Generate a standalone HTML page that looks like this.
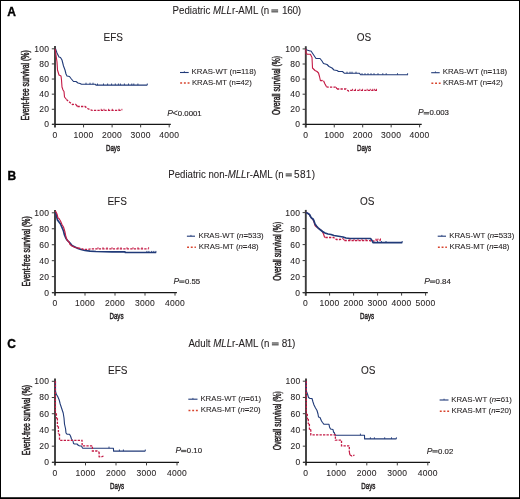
<!DOCTYPE html>
<html><head><meta charset="utf-8"><title>KRAS survival</title>
<style>
html,body{margin:0;padding:0;background:#fff;}
body{width:520px;height:499px;overflow:hidden;position:relative;}
.frame{position:absolute;left:0;top:0;width:518px;height:497px;border:1px solid #000;}
.bline{position:absolute;left:1px;top:497px;width:518px;height:1px;background:#3a3a3a;}
svg{position:absolute;left:0;top:0;will-change:transform;}
svg text{font-family:"Liberation Sans", sans-serif;stroke:#231f20;stroke-width:0.08px;}
</style></head><body>
<div class="frame"></div><div class="bline"></div>
<svg width="520" height="499" viewBox="0 0 520 499" font-family='"Liberation Sans", sans-serif'>
<text x="7.3" y="15.6" font-size="12" font-weight="bold" fill="#000" style="stroke:#000;stroke-width:0.35px">A</text>
<text x="7.4" y="180.1" font-size="12" font-weight="bold" fill="#000" style="stroke:#000;stroke-width:0.35px">B</text>
<text x="7.2" y="348.4" font-size="12" font-weight="bold" fill="#000" style="stroke:#000;stroke-width:0.35px">C</text>
<g transform="translate(172.6,13.9) scale(0.971,1)"><text x="0" y="0" font-size="10" fill="#231f20">Pediatric <tspan font-style="italic">MLL</tspan>r-AML (n</text></g>
<rect x="271.4" y="9.4" width="6.70" height="1.2" fill="#444"/>
<rect x="271.4" y="11.20" width="6.70" height="1.2" fill="#444"/>
<rect x="271.4" y="10.60" width="6.70" height="0.6" fill="#888"/>
<text x="300.9" y="13.9" font-size="10" fill="#231f20" text-anchor="end" letter-spacing="-0.3">160)</text>
<g transform="translate(168.3,178.1) scale(0.964,1)"><text x="0" y="0" font-size="10" fill="#231f20">Pediatric non-<tspan font-style="italic">MLL</tspan>r-AML (n</text></g>
<rect x="285.7" y="173.4" width="6.10" height="1.2" fill="#444"/>
<rect x="285.7" y="175.20" width="6.10" height="1.2" fill="#444"/>
<rect x="285.7" y="174.60" width="6.10" height="0.6" fill="#888"/>
<text x="315.3" y="178.1" font-size="10" fill="#231f20" text-anchor="end" letter-spacing="0.3">581)</text>
<g transform="translate(188.4,346.8) scale(0.971,1)"><text x="0" y="0" font-size="10" fill="#231f20">Adult <tspan font-style="italic">MLL</tspan>r-AML (n</text></g>
<rect x="271.9" y="342.4" width="6.70" height="1.2" fill="#444"/>
<rect x="271.9" y="344.20" width="6.70" height="1.2" fill="#444"/>
<rect x="271.9" y="343.60" width="6.70" height="0.6" fill="#888"/>
<text x="294.9" y="346.8" font-size="10" fill="#231f20" text-anchor="end" letter-spacing="-0.4">81)</text>
<text x="103.5" y="40.9" font-size="10" text-anchor="start" font-weight="normal" font-style="normal" fill="#231f20" >EFS</text>
<text x="356.8" y="41.1" font-size="10" text-anchor="start" font-weight="normal" font-style="normal" fill="#231f20" >OS</text>
<text x="107.4" y="204.6" font-size="10" text-anchor="start" font-weight="normal" font-style="normal" fill="#231f20" >EFS</text>
<text x="359.9" y="204.9" font-size="10" text-anchor="start" font-weight="normal" font-style="normal" fill="#231f20" >OS</text>
<text x="108.0" y="373.6" font-size="10" text-anchor="start" font-weight="normal" font-style="normal" fill="#231f20" >EFS</text>
<text x="360.9" y="374.0" font-size="10" text-anchor="start" font-weight="normal" font-style="normal" fill="#231f20" >OS</text>
<line x1="55" y1="46.099999999999994" x2="55" y2="127.60000000000001" stroke="#3c3c3c" stroke-width="1.9"/>
<line x1="52" y1="124.4" x2="170.8" y2="124.4" stroke="#151515" stroke-width="1.2"/>
<line x1="51.8" y1="124.40" x2="55" y2="124.40" stroke="#3c3c3c" stroke-width="1"/>
<text x="49.40" y="127.30" font-size="8.5" text-anchor="end" font-weight="normal" font-style="normal" fill="#231f20" letter-spacing="0.3">0</text>
<line x1="51.8" y1="109.28" x2="55" y2="109.28" stroke="#3c3c3c" stroke-width="1"/>
<text x="49.40" y="112.18" font-size="8.5" text-anchor="end" font-weight="normal" font-style="normal" fill="#231f20" letter-spacing="0.3">20</text>
<line x1="51.8" y1="94.16" x2="55" y2="94.16" stroke="#3c3c3c" stroke-width="1"/>
<text x="49.40" y="97.06" font-size="8.5" text-anchor="end" font-weight="normal" font-style="normal" fill="#231f20" letter-spacing="0.3">40</text>
<line x1="51.8" y1="79.04" x2="55" y2="79.04" stroke="#3c3c3c" stroke-width="1"/>
<text x="49.40" y="81.94" font-size="8.5" text-anchor="end" font-weight="normal" font-style="normal" fill="#231f20" letter-spacing="0.3">60</text>
<line x1="51.8" y1="63.92" x2="55" y2="63.92" stroke="#3c3c3c" stroke-width="1"/>
<text x="49.40" y="66.82" font-size="8.5" text-anchor="end" font-weight="normal" font-style="normal" fill="#231f20" letter-spacing="0.3">80</text>
<line x1="51.8" y1="48.80" x2="55" y2="48.80" stroke="#3c3c3c" stroke-width="1"/>
<text x="49.40" y="51.70" font-size="8.5" text-anchor="end" font-weight="normal" font-style="normal" fill="#231f20" letter-spacing="0.3">100</text>
<text x="55.00" y="137.90" font-size="8.5" text-anchor="middle" font-weight="normal" font-style="normal" fill="#231f20" letter-spacing="0.3">0</text>
<line x1="83.55" y1="124.4" x2="83.55" y2="127.4" stroke="#3c3c3c" stroke-width="1"/>
<text x="83.55" y="137.90" font-size="8.5" text-anchor="middle" font-weight="normal" font-style="normal" fill="#231f20" letter-spacing="0.3">1000</text>
<line x1="112.10" y1="124.4" x2="112.10" y2="127.4" stroke="#3c3c3c" stroke-width="1"/>
<text x="112.10" y="137.90" font-size="8.5" text-anchor="middle" font-weight="normal" font-style="normal" fill="#231f20" letter-spacing="0.3">2000</text>
<line x1="140.65" y1="124.4" x2="140.65" y2="127.4" stroke="#3c3c3c" stroke-width="1"/>
<text x="140.65" y="137.90" font-size="8.5" text-anchor="middle" font-weight="normal" font-style="normal" fill="#231f20" letter-spacing="0.3">3000</text>
<line x1="169.20" y1="124.4" x2="169.20" y2="127.4" stroke="#3c3c3c" stroke-width="1"/>
<text x="169.20" y="137.90" font-size="8.5" text-anchor="middle" font-weight="normal" font-style="normal" fill="#231f20" letter-spacing="0.3">4000</text>
<line x1="305.8" y1="46.199999999999996" x2="305.8" y2="127.60000000000001" stroke="#3c3c3c" stroke-width="1.9"/>
<line x1="302.8" y1="124.4" x2="421.7" y2="124.4" stroke="#151515" stroke-width="1.2"/>
<line x1="302.6" y1="124.40" x2="305.8" y2="124.40" stroke="#3c3c3c" stroke-width="1"/>
<text x="300.40" y="127.30" font-size="8.5" text-anchor="end" font-weight="normal" font-style="normal" fill="#231f20" letter-spacing="0.3">0</text>
<line x1="302.6" y1="109.30" x2="305.8" y2="109.30" stroke="#3c3c3c" stroke-width="1"/>
<text x="300.40" y="112.20" font-size="8.5" text-anchor="end" font-weight="normal" font-style="normal" fill="#231f20" letter-spacing="0.3">20</text>
<line x1="302.6" y1="94.20" x2="305.8" y2="94.20" stroke="#3c3c3c" stroke-width="1"/>
<text x="300.40" y="97.10" font-size="8.5" text-anchor="end" font-weight="normal" font-style="normal" fill="#231f20" letter-spacing="0.3">40</text>
<line x1="302.6" y1="79.10" x2="305.8" y2="79.10" stroke="#3c3c3c" stroke-width="1"/>
<text x="300.40" y="82.00" font-size="8.5" text-anchor="end" font-weight="normal" font-style="normal" fill="#231f20" letter-spacing="0.3">60</text>
<line x1="302.6" y1="64.00" x2="305.8" y2="64.00" stroke="#3c3c3c" stroke-width="1"/>
<text x="300.40" y="66.90" font-size="8.5" text-anchor="end" font-weight="normal" font-style="normal" fill="#231f20" letter-spacing="0.3">80</text>
<line x1="302.6" y1="48.90" x2="305.8" y2="48.90" stroke="#3c3c3c" stroke-width="1"/>
<text x="300.40" y="51.80" font-size="8.5" text-anchor="end" font-weight="normal" font-style="normal" fill="#231f20" letter-spacing="0.3">100</text>
<text x="305.80" y="137.90" font-size="8.5" text-anchor="middle" font-weight="normal" font-style="normal" fill="#231f20" letter-spacing="0.3">0</text>
<line x1="334.25" y1="124.4" x2="334.25" y2="127.4" stroke="#3c3c3c" stroke-width="1"/>
<text x="334.25" y="137.90" font-size="8.5" text-anchor="middle" font-weight="normal" font-style="normal" fill="#231f20" letter-spacing="0.3">1000</text>
<line x1="362.70" y1="124.4" x2="362.70" y2="127.4" stroke="#3c3c3c" stroke-width="1"/>
<text x="362.70" y="137.90" font-size="8.5" text-anchor="middle" font-weight="normal" font-style="normal" fill="#231f20" letter-spacing="0.3">2000</text>
<line x1="391.15" y1="124.4" x2="391.15" y2="127.4" stroke="#3c3c3c" stroke-width="1"/>
<text x="391.15" y="137.90" font-size="8.5" text-anchor="middle" font-weight="normal" font-style="normal" fill="#231f20" letter-spacing="0.3">3000</text>
<line x1="419.60" y1="124.4" x2="419.60" y2="127.4" stroke="#3c3c3c" stroke-width="1"/>
<text x="419.60" y="137.90" font-size="8.5" text-anchor="middle" font-weight="normal" font-style="normal" fill="#231f20" letter-spacing="0.3">4000</text>
<line x1="55" y1="210.10000000000002" x2="55" y2="295.8" stroke="#3c3c3c" stroke-width="1.9"/>
<line x1="52" y1="292.6" x2="176.9" y2="292.6" stroke="#151515" stroke-width="1.2"/>
<line x1="51.8" y1="292.60" x2="55" y2="292.60" stroke="#3c3c3c" stroke-width="1"/>
<text x="49.40" y="295.50" font-size="8.5" text-anchor="end" font-weight="normal" font-style="normal" fill="#231f20" letter-spacing="0.3">0</text>
<line x1="51.8" y1="276.64" x2="55" y2="276.64" stroke="#3c3c3c" stroke-width="1"/>
<text x="49.40" y="279.54" font-size="8.5" text-anchor="end" font-weight="normal" font-style="normal" fill="#231f20" letter-spacing="0.3">20</text>
<line x1="51.8" y1="260.68" x2="55" y2="260.68" stroke="#3c3c3c" stroke-width="1"/>
<text x="49.40" y="263.58" font-size="8.5" text-anchor="end" font-weight="normal" font-style="normal" fill="#231f20" letter-spacing="0.3">40</text>
<line x1="51.8" y1="244.72" x2="55" y2="244.72" stroke="#3c3c3c" stroke-width="1"/>
<text x="49.40" y="247.62" font-size="8.5" text-anchor="end" font-weight="normal" font-style="normal" fill="#231f20" letter-spacing="0.3">60</text>
<line x1="51.8" y1="228.76" x2="55" y2="228.76" stroke="#3c3c3c" stroke-width="1"/>
<text x="49.40" y="231.66" font-size="8.5" text-anchor="end" font-weight="normal" font-style="normal" fill="#231f20" letter-spacing="0.3">80</text>
<line x1="51.8" y1="212.80" x2="55" y2="212.80" stroke="#3c3c3c" stroke-width="1"/>
<text x="49.40" y="215.70" font-size="8.5" text-anchor="end" font-weight="normal" font-style="normal" fill="#231f20" letter-spacing="0.3">100</text>
<text x="55.00" y="306.20" font-size="8.5" text-anchor="middle" font-weight="normal" font-style="normal" fill="#231f20" letter-spacing="0.3">0</text>
<line x1="85.00" y1="292.6" x2="85.00" y2="295.6" stroke="#3c3c3c" stroke-width="1"/>
<text x="85.00" y="306.20" font-size="8.5" text-anchor="middle" font-weight="normal" font-style="normal" fill="#231f20" letter-spacing="0.3">1000</text>
<line x1="115.00" y1="292.6" x2="115.00" y2="295.6" stroke="#3c3c3c" stroke-width="1"/>
<text x="115.00" y="306.20" font-size="8.5" text-anchor="middle" font-weight="normal" font-style="normal" fill="#231f20" letter-spacing="0.3">2000</text>
<line x1="145.00" y1="292.6" x2="145.00" y2="295.6" stroke="#3c3c3c" stroke-width="1"/>
<text x="145.00" y="306.20" font-size="8.5" text-anchor="middle" font-weight="normal" font-style="normal" fill="#231f20" letter-spacing="0.3">3000</text>
<line x1="175.00" y1="292.6" x2="175.00" y2="295.6" stroke="#3c3c3c" stroke-width="1"/>
<text x="175.00" y="306.20" font-size="8.5" text-anchor="middle" font-weight="normal" font-style="normal" fill="#231f20" letter-spacing="0.3">4000</text>
<line x1="305.8" y1="209.9" x2="305.8" y2="295.8" stroke="#3c3c3c" stroke-width="1.9"/>
<line x1="302.8" y1="292.6" x2="427.8" y2="292.6" stroke="#151515" stroke-width="1.2"/>
<line x1="302.6" y1="292.60" x2="305.8" y2="292.60" stroke="#3c3c3c" stroke-width="1"/>
<text x="300.40" y="295.50" font-size="8.5" text-anchor="end" font-weight="normal" font-style="normal" fill="#231f20" letter-spacing="0.3">0</text>
<line x1="302.6" y1="276.60" x2="305.8" y2="276.60" stroke="#3c3c3c" stroke-width="1"/>
<text x="300.40" y="279.50" font-size="8.5" text-anchor="end" font-weight="normal" font-style="normal" fill="#231f20" letter-spacing="0.3">20</text>
<line x1="302.6" y1="260.60" x2="305.8" y2="260.60" stroke="#3c3c3c" stroke-width="1"/>
<text x="300.40" y="263.50" font-size="8.5" text-anchor="end" font-weight="normal" font-style="normal" fill="#231f20" letter-spacing="0.3">40</text>
<line x1="302.6" y1="244.60" x2="305.8" y2="244.60" stroke="#3c3c3c" stroke-width="1"/>
<text x="300.40" y="247.50" font-size="8.5" text-anchor="end" font-weight="normal" font-style="normal" fill="#231f20" letter-spacing="0.3">60</text>
<line x1="302.6" y1="228.60" x2="305.8" y2="228.60" stroke="#3c3c3c" stroke-width="1"/>
<text x="300.40" y="231.50" font-size="8.5" text-anchor="end" font-weight="normal" font-style="normal" fill="#231f20" letter-spacing="0.3">80</text>
<line x1="302.6" y1="212.60" x2="305.8" y2="212.60" stroke="#3c3c3c" stroke-width="1"/>
<text x="300.40" y="215.50" font-size="8.5" text-anchor="end" font-weight="normal" font-style="normal" fill="#231f20" letter-spacing="0.3">100</text>
<text x="305.60" y="306.20" font-size="8.5" text-anchor="middle" font-weight="normal" font-style="normal" fill="#231f20" letter-spacing="0.3">0</text>
<line x1="329.60" y1="292.6" x2="329.60" y2="295.6" stroke="#3c3c3c" stroke-width="1"/>
<text x="329.60" y="306.20" font-size="8.5" text-anchor="middle" font-weight="normal" font-style="normal" fill="#231f20" letter-spacing="0.3">1000</text>
<line x1="353.60" y1="292.6" x2="353.60" y2="295.6" stroke="#3c3c3c" stroke-width="1"/>
<text x="353.60" y="306.20" font-size="8.5" text-anchor="middle" font-weight="normal" font-style="normal" fill="#231f20" letter-spacing="0.3">2000</text>
<line x1="377.60" y1="292.6" x2="377.60" y2="295.6" stroke="#3c3c3c" stroke-width="1"/>
<text x="377.60" y="306.20" font-size="8.5" text-anchor="middle" font-weight="normal" font-style="normal" fill="#231f20" letter-spacing="0.3">3000</text>
<line x1="401.60" y1="292.6" x2="401.60" y2="295.6" stroke="#3c3c3c" stroke-width="1"/>
<text x="401.60" y="306.20" font-size="8.5" text-anchor="middle" font-weight="normal" font-style="normal" fill="#231f20" letter-spacing="0.3">4000</text>
<line x1="425.60" y1="292.6" x2="425.60" y2="295.6" stroke="#3c3c3c" stroke-width="1"/>
<text x="425.60" y="306.20" font-size="8.5" text-anchor="middle" font-weight="normal" font-style="normal" fill="#231f20" letter-spacing="0.3">5000</text>
<line x1="55" y1="378.6" x2="55" y2="465.59999999999997" stroke="#3c3c3c" stroke-width="1.9"/>
<line x1="52" y1="462.4" x2="179.0" y2="462.4" stroke="#151515" stroke-width="1.2"/>
<line x1="51.8" y1="462.40" x2="55" y2="462.40" stroke="#3c3c3c" stroke-width="1"/>
<text x="49.40" y="465.30" font-size="8.5" text-anchor="end" font-weight="normal" font-style="normal" fill="#231f20" letter-spacing="0.3">0</text>
<line x1="51.8" y1="446.18" x2="55" y2="446.18" stroke="#3c3c3c" stroke-width="1"/>
<text x="49.40" y="449.08" font-size="8.5" text-anchor="end" font-weight="normal" font-style="normal" fill="#231f20" letter-spacing="0.3">20</text>
<line x1="51.8" y1="429.96" x2="55" y2="429.96" stroke="#3c3c3c" stroke-width="1"/>
<text x="49.40" y="432.86" font-size="8.5" text-anchor="end" font-weight="normal" font-style="normal" fill="#231f20" letter-spacing="0.3">40</text>
<line x1="51.8" y1="413.74" x2="55" y2="413.74" stroke="#3c3c3c" stroke-width="1"/>
<text x="49.40" y="416.64" font-size="8.5" text-anchor="end" font-weight="normal" font-style="normal" fill="#231f20" letter-spacing="0.3">60</text>
<line x1="51.8" y1="397.52" x2="55" y2="397.52" stroke="#3c3c3c" stroke-width="1"/>
<text x="49.40" y="400.42" font-size="8.5" text-anchor="end" font-weight="normal" font-style="normal" fill="#231f20" letter-spacing="0.3">80</text>
<line x1="51.8" y1="381.30" x2="55" y2="381.30" stroke="#3c3c3c" stroke-width="1"/>
<text x="49.40" y="384.20" font-size="8.5" text-anchor="end" font-weight="normal" font-style="normal" fill="#231f20" letter-spacing="0.3">100</text>
<text x="55.00" y="476.00" font-size="8.5" text-anchor="middle" font-weight="normal" font-style="normal" fill="#231f20" letter-spacing="0.3">0</text>
<line x1="85.50" y1="462.4" x2="85.50" y2="465.4" stroke="#3c3c3c" stroke-width="1"/>
<text x="85.50" y="476.00" font-size="8.5" text-anchor="middle" font-weight="normal" font-style="normal" fill="#231f20" letter-spacing="0.3">1000</text>
<line x1="116.00" y1="462.4" x2="116.00" y2="465.4" stroke="#3c3c3c" stroke-width="1"/>
<text x="116.00" y="476.00" font-size="8.5" text-anchor="middle" font-weight="normal" font-style="normal" fill="#231f20" letter-spacing="0.3">2000</text>
<line x1="146.50" y1="462.4" x2="146.50" y2="465.4" stroke="#3c3c3c" stroke-width="1"/>
<text x="146.50" y="476.00" font-size="8.5" text-anchor="middle" font-weight="normal" font-style="normal" fill="#231f20" letter-spacing="0.3">3000</text>
<line x1="177.00" y1="462.4" x2="177.00" y2="465.4" stroke="#3c3c3c" stroke-width="1"/>
<text x="177.00" y="476.00" font-size="8.5" text-anchor="middle" font-weight="normal" font-style="normal" fill="#231f20" letter-spacing="0.3">4000</text>
<line x1="306" y1="378.5" x2="306" y2="465.59999999999997" stroke="#3c3c3c" stroke-width="1.9"/>
<line x1="303" y1="462.4" x2="430.0" y2="462.4" stroke="#151515" stroke-width="1.2"/>
<line x1="302.8" y1="462.40" x2="306" y2="462.40" stroke="#3c3c3c" stroke-width="1"/>
<text x="300.60" y="465.30" font-size="8.5" text-anchor="end" font-weight="normal" font-style="normal" fill="#231f20" letter-spacing="0.3">0</text>
<line x1="302.8" y1="446.16" x2="306" y2="446.16" stroke="#3c3c3c" stroke-width="1"/>
<text x="300.60" y="449.06" font-size="8.5" text-anchor="end" font-weight="normal" font-style="normal" fill="#231f20" letter-spacing="0.3">20</text>
<line x1="302.8" y1="429.92" x2="306" y2="429.92" stroke="#3c3c3c" stroke-width="1"/>
<text x="300.60" y="432.82" font-size="8.5" text-anchor="end" font-weight="normal" font-style="normal" fill="#231f20" letter-spacing="0.3">40</text>
<line x1="302.8" y1="413.68" x2="306" y2="413.68" stroke="#3c3c3c" stroke-width="1"/>
<text x="300.60" y="416.58" font-size="8.5" text-anchor="end" font-weight="normal" font-style="normal" fill="#231f20" letter-spacing="0.3">60</text>
<line x1="302.8" y1="397.44" x2="306" y2="397.44" stroke="#3c3c3c" stroke-width="1"/>
<text x="300.60" y="400.34" font-size="8.5" text-anchor="end" font-weight="normal" font-style="normal" fill="#231f20" letter-spacing="0.3">80</text>
<line x1="302.8" y1="381.20" x2="306" y2="381.20" stroke="#3c3c3c" stroke-width="1"/>
<text x="300.60" y="384.10" font-size="8.5" text-anchor="end" font-weight="normal" font-style="normal" fill="#231f20" letter-spacing="0.3">100</text>
<text x="305.80" y="476.00" font-size="8.5" text-anchor="middle" font-weight="normal" font-style="normal" fill="#231f20" letter-spacing="0.3">0</text>
<line x1="336.30" y1="462.4" x2="336.30" y2="465.4" stroke="#3c3c3c" stroke-width="1"/>
<text x="336.30" y="476.00" font-size="8.5" text-anchor="middle" font-weight="normal" font-style="normal" fill="#231f20" letter-spacing="0.3">1000</text>
<line x1="366.80" y1="462.4" x2="366.80" y2="465.4" stroke="#3c3c3c" stroke-width="1"/>
<text x="366.80" y="476.00" font-size="8.5" text-anchor="middle" font-weight="normal" font-style="normal" fill="#231f20" letter-spacing="0.3">2000</text>
<line x1="397.30" y1="462.4" x2="397.30" y2="465.4" stroke="#3c3c3c" stroke-width="1"/>
<text x="397.30" y="476.00" font-size="8.5" text-anchor="middle" font-weight="normal" font-style="normal" fill="#231f20" letter-spacing="0.3">3000</text>
<line x1="427.80" y1="462.4" x2="427.80" y2="465.4" stroke="#3c3c3c" stroke-width="1"/>
<text x="427.80" y="476.00" font-size="8.5" text-anchor="middle" font-weight="normal" font-style="normal" fill="#231f20" letter-spacing="0.3">4000</text>
<g transform="translate(29.2,85.3) rotate(-90) scale(0.695,1)"><text x="0" y="0" font-size="10" text-anchor="middle" fill="#231f20" style="stroke-width:0.5px">Event-free survival (%)</text></g>
<g transform="translate(280.0,85.5) rotate(-90) scale(0.68,1)"><text x="0" y="0" font-size="10" text-anchor="middle" fill="#231f20" style="stroke-width:0.5px">Overall survival (%)</text></g>
<g transform="translate(29.6,251.3) rotate(-90) scale(0.695,1)"><text x="0" y="0" font-size="10" text-anchor="middle" fill="#231f20" style="stroke-width:0.5px">Event-free survival (%)</text></g>
<g transform="translate(280.7,251.3) rotate(-90) scale(0.68,1)"><text x="0" y="0" font-size="10" text-anchor="middle" fill="#231f20" style="stroke-width:0.5px">Overall survival (%)</text></g>
<g transform="translate(29.5,420.0) rotate(-90) scale(0.695,1)"><text x="0" y="0" font-size="10" text-anchor="middle" fill="#231f20" style="stroke-width:0.5px">Event-free survival (%)</text></g>
<g transform="translate(280.7,420.7) rotate(-90) scale(0.68,1)"><text x="0" y="0" font-size="10" text-anchor="middle" fill="#231f20" style="stroke-width:0.5px">Overall survival (%)</text></g>
<g transform="translate(113.0,150.8) scale(0.62,0.95)"><text x="0" y="0" font-size="10" text-anchor="middle" fill="#231f20" style="stroke-width:0.5px">Days</text></g>
<g transform="translate(364.0,150.8) scale(0.62,0.95)"><text x="0" y="0" font-size="10" text-anchor="middle" fill="#231f20" style="stroke-width:0.5px">Days</text></g>
<g transform="translate(116.5,319.4) scale(0.62,0.95)"><text x="0" y="0" font-size="10" text-anchor="middle" fill="#231f20" style="stroke-width:0.5px">Days</text></g>
<g transform="translate(367.1,319.4) scale(0.62,0.95)"><text x="0" y="0" font-size="10" text-anchor="middle" fill="#231f20" style="stroke-width:0.5px">Days</text></g>
<g transform="translate(117.1,488.9) scale(0.62,0.95)"><text x="0" y="0" font-size="10" text-anchor="middle" fill="#231f20" style="stroke-width:0.5px">Days</text></g>
<g transform="translate(368.3,488.9) scale(0.62,0.95)"><text x="0" y="0" font-size="10" text-anchor="middle" fill="#231f20" style="stroke-width:0.5px">Days</text></g>
<polyline points="55.50,48.80 57.00,53.00 59.00,57.00 60.50,57.50 62.00,60.00 63.50,66.00 65.00,70.00 66.00,74.00 67.00,76.00 69.50,76.50 71.00,78.50 73.50,81.50 76.00,81.50 78.00,83.00 80.00,83.50 81.50,84.30 95.50,84.30 96.00,85.10 147.30,85.10" fill="none" stroke="#203a78" stroke-width="1.1" stroke-linejoin="round"/>
<polyline points="55.20,48.80 56.00,55.00 57.00,62.00 57.50,70.00 59.00,75.00 61.00,76.00 61.50,80.00 62.00,87.00 63.00,90.00 64.00,91.50 64.50,97.00 66.50,99.50" fill="none" stroke="#c41a45" stroke-width="1.1" stroke-linejoin="round"/>
<polyline points="66.50,99.50 68.50,101.50 70.00,102.50 72.50,104.50 75.50,104.20" fill="none" stroke="#c41a45" stroke-width="1.3" stroke-dasharray="2.3 1.2"/>
<polyline points="75.50,104.20 77.50,106.50" fill="none" stroke="#c41a45" stroke-width="1.15" stroke-linejoin="round"/>
<polyline points="77.50,106.50 85.00,106.50 87.50,108.50 90.00,109.50 92.00,110.40 121.90,110.40" fill="none" stroke="#c41a45" stroke-width="1.3" stroke-dasharray="2.3 1.2"/>
<polyline points="306.00,48.90 307.00,50.00 310.00,51.00 311.00,51.00 313.00,54.00 316.00,58.50 320.00,58.50 322.00,61.00 323.50,63.50 327.00,64.50 329.00,66.50 330.00,67.00 332.00,68.00 334.00,70.00 337.00,70.50 338.50,71.50 342.50,71.50 344.50,73.30 359.50,73.30 360.50,74.80 408.00,74.80" fill="none" stroke="#203a78" stroke-width="1.1" stroke-linejoin="round"/>
<polyline points="305.90,48.90 306.10,53.80 307.50,54.10 310.40,54.30 312.00,57.50 312.50,68.00 315.00,70.50 317.00,71.50 318.50,73.00 319.50,76.50 320.50,81.00" fill="none" stroke="#c41a45" stroke-width="1.1" stroke-linejoin="round"/>
<polyline points="320.50,81.00 322.00,80.50 323.50,80.80" fill="none" stroke="#c41a45" stroke-width="1.3" stroke-dasharray="2.3 1.2"/>
<polyline points="323.50,80.80 325.00,84.00 326.50,86.80" fill="none" stroke="#c41a45" stroke-width="1.15" stroke-linejoin="round"/>
<polyline points="326.50,86.80 328.00,87.20 336.00,87.20" fill="none" stroke="#c41a45" stroke-width="1.3" stroke-dasharray="2.3 1.2"/>
<polyline points="336.00,87.20 337.00,89.00" fill="none" stroke="#c41a45" stroke-width="1.15" stroke-linejoin="round"/>
<polyline points="337.00,89.00 346.00,89.00 348.50,91.00 350.00,90.40 377.10,90.40" fill="none" stroke="#c41a45" stroke-width="1.3" stroke-dasharray="2.3 1.2"/>
<polyline points="55.50,381.30 55.50,391.00 56.20,394.00 57.70,396.50 59.20,400.00 60.20,404.00 61.20,407.00 62.20,410.00 63.20,413.00 64.00,418.00 64.50,424.00 65.60,429.00 66.00,433.00 67.00,434.20 69.50,434.20 70.50,436.00 71.50,439.00 73.00,441.00 73.50,443.50 74.50,444.00 77.00,444.00 78.50,445.50 80.00,446.00 81.50,446.00 82.50,448.00 83.00,448.20 113.40,448.20 113.60,451.10 145.30,451.10" fill="none" stroke="#203a78" stroke-width="1.1" stroke-linejoin="round"/>
<polyline points="55.40,381.30 55.40,413.50" fill="none" stroke="#c41a45" stroke-width="1.3" stroke-dasharray="2.3 1.2"/>
<polyline points="55.40,413.50 56.40,413.50" fill="none" stroke="#c41a45" stroke-width="1.15" stroke-linejoin="round"/>
<polyline points="56.40,413.50 56.40,418.30" fill="none" stroke="#c41a45" stroke-width="1.3" stroke-dasharray="2.3 1.2"/>
<polyline points="56.40,418.30 57.40,418.30" fill="none" stroke="#c41a45" stroke-width="1.15" stroke-linejoin="round"/>
<polyline points="57.40,418.30 57.40,426.50" fill="none" stroke="#c41a45" stroke-width="1.3" stroke-dasharray="2.3 1.2"/>
<polyline points="57.40,426.50 58.40,426.50" fill="none" stroke="#c41a45" stroke-width="1.15" stroke-linejoin="round"/>
<polyline points="58.40,426.50 58.40,434.00" fill="none" stroke="#c41a45" stroke-width="1.3" stroke-dasharray="2.3 1.2"/>
<polyline points="58.40,434.00 59.50,434.00" fill="none" stroke="#c41a45" stroke-width="1.15" stroke-linejoin="round"/>
<polyline points="59.50,434.00 59.50,440.30 82.00,440.30 82.20,445.80 92.40,445.80 92.40,451.00 97.00,451.00 98.50,451.50" fill="none" stroke="#c41a45" stroke-width="1.3" stroke-dasharray="2.3 1.2"/>
<polyline points="98.50,451.50 99.10,452.00" fill="none" stroke="#c41a45" stroke-width="1.15" stroke-linejoin="round"/>
<polyline points="99.10,452.00 99.10,456.60 101.00,457.00 103.50,456.00" fill="none" stroke="#c41a45" stroke-width="1.3" stroke-dasharray="2.3 1.2"/>
<polyline points="306.20,381.20 306.30,391.00 307.50,394.00 308.50,397.50 310.00,398.50 312.00,398.50 313.00,402.00 314.00,405.00 315.50,408.00 317.00,410.50 318.00,414.00 318.50,417.00 320.00,417.50 321.50,421.00 322.50,422.50 324.00,424.30 329.00,424.30 329.50,427.00 330.50,429.00 333.00,429.50 333.50,432.00 334.50,433.00 335.00,435.20 364.50,435.20 364.60,438.90 396.40,438.90" fill="none" stroke="#203a78" stroke-width="1.1" stroke-linejoin="round"/>
<polyline points="306.30,381.20 306.30,414.00" fill="none" stroke="#c41a45" stroke-width="1.3" stroke-dasharray="2.3 1.2"/>
<polyline points="306.30,414.00 307.30,414.00" fill="none" stroke="#c41a45" stroke-width="1.15" stroke-linejoin="round"/>
<polyline points="307.30,414.00 307.30,419.00" fill="none" stroke="#c41a45" stroke-width="1.3" stroke-dasharray="2.3 1.2"/>
<polyline points="307.30,419.00 308.30,419.00" fill="none" stroke="#c41a45" stroke-width="1.15" stroke-linejoin="round"/>
<polyline points="308.30,419.00 308.30,424.00" fill="none" stroke="#c41a45" stroke-width="1.3" stroke-dasharray="2.3 1.2"/>
<polyline points="308.30,424.00 309.40,424.00" fill="none" stroke="#c41a45" stroke-width="1.15" stroke-linejoin="round"/>
<polyline points="309.40,424.00 309.40,429.50" fill="none" stroke="#c41a45" stroke-width="1.3" stroke-dasharray="2.3 1.2"/>
<polyline points="309.40,429.50 310.80,429.50" fill="none" stroke="#c41a45" stroke-width="1.15" stroke-linejoin="round"/>
<polyline points="310.80,429.50 310.80,434.80 335.40,434.80 335.40,440.20 341.50,440.20 341.50,445.80 349.30,445.80 349.30,452.00" fill="none" stroke="#c41a45" stroke-width="1.3" stroke-dasharray="2.3 1.2"/>
<polyline points="349.30,452.00 350.00,455.00" fill="none" stroke="#c41a45" stroke-width="1.15" stroke-linejoin="round"/>
<polyline points="350.00,455.00 352.00,456.00 354.50,455.00" fill="none" stroke="#c41a45" stroke-width="1.3" stroke-dasharray="2.3 1.2"/>
<polyline points="55.50,212.50 56.50,216.00 57.50,220.00 59.00,222.00 60.50,224.00 62.00,227.50 63.50,231.00 64.50,235.00 66.00,238.50 67.50,240.50 70.00,243.00 72.00,245.50 75.00,247.00 78.00,248.50 81.00,249.50 85.00,250.50 90.00,251.20 96.00,251.50 112.00,251.80 125.00,251.80 125.30,252.50 156.20,252.50" fill="none" stroke="#203a78" stroke-width="1.7" stroke-linejoin="round"/>
<polyline points="55.50,211.00 57.00,214.00 58.00,218.00 59.00,218.50 60.50,221.00 62.00,224.50 63.50,227.00 65.00,232.00 66.00,237.00 67.00,240.00 69.00,242.00 70.00,244.50 72.00,246.00 75.00,247.50 78.00,248.00" fill="none" stroke="#c41a45" stroke-width="1.1" stroke-linejoin="round"/>
<polyline points="78.00,248.00 81.00,248.50 84.00,249.40 88.00,249.40 91.00,248.80 148.60,248.80" fill="none" stroke="#c41a45" stroke-width="1.3" stroke-dasharray="2.3 1.2"/>
<polyline points="306.00,212.20 308.00,213.50 309.50,214.80 310.50,216.80 311.50,218.30 313.00,219.50 314.00,222.00 315.00,225.50 316.50,227.00 318.00,228.00 320.00,229.50 322.00,231.00" fill="none" stroke="#c41a45" stroke-width="1.1" stroke-linejoin="round"/>
<polyline points="322.00,231.00 323.50,234.00 324.50,237.00 325.50,237.50" fill="none" stroke="#c41a45" stroke-width="1.15" stroke-linejoin="round"/>
<polyline points="325.50,237.50 333.50,237.50 335.00,238.50 336.50,239.50 340.00,239.50 343.00,238.50" fill="none" stroke="#c41a45" stroke-width="1.3" stroke-dasharray="2.3 1.2"/>
<polyline points="343.00,238.50 344.50,240.50" fill="none" stroke="#c41a45" stroke-width="1.15" stroke-linejoin="round"/>
<polyline points="344.50,240.50 370.00,240.60 371.50,241.30 374.00,241.00 376.00,240.20 381.00,240.00" fill="none" stroke="#c41a45" stroke-width="1.3" stroke-dasharray="2.3 1.2"/>
<polyline points="306.00,212.50 308.00,213.50 309.50,214.50 310.50,216.50 311.50,218.00 313.00,219.00 314.00,221.00 315.00,224.00 316.50,226.00 318.00,227.80 320.00,229.50 322.50,231.50 325.00,233.00 328.00,234.00 331.00,234.50 334.00,235.50 337.00,236.00 340.00,236.50 343.00,237.00 346.00,238.00 350.00,238.50 370.50,238.50 372.00,240.50 373.00,242.60 402.30,242.60" fill="none" stroke="#203a78" stroke-width="1.7" stroke-linejoin="round"/>
<line x1="97.5" y1="85.1" x2="97.5" y2="83.5" stroke="#203a78" stroke-width="0.9"/>
<line x1="103.5" y1="85.1" x2="103.5" y2="83.5" stroke="#203a78" stroke-width="0.9"/>
<line x1="107.6" y1="85.1" x2="107.6" y2="83.5" stroke="#203a78" stroke-width="0.9"/>
<line x1="111.6" y1="85.1" x2="111.6" y2="83.5" stroke="#203a78" stroke-width="0.9"/>
<line x1="115.3" y1="85.1" x2="115.3" y2="83.5" stroke="#203a78" stroke-width="0.9"/>
<line x1="118.4" y1="85.1" x2="118.4" y2="83.5" stroke="#203a78" stroke-width="0.9"/>
<line x1="120.4" y1="85.1" x2="120.4" y2="83.5" stroke="#203a78" stroke-width="0.9"/>
<line x1="124.4" y1="85.1" x2="124.4" y2="83.5" stroke="#203a78" stroke-width="0.9"/>
<line x1="128.5" y1="85.1" x2="128.5" y2="83.5" stroke="#203a78" stroke-width="0.9"/>
<line x1="131.8" y1="85.1" x2="131.8" y2="83.5" stroke="#203a78" stroke-width="0.9"/>
<line x1="133.8" y1="85.1" x2="133.8" y2="83.5" stroke="#203a78" stroke-width="0.9"/>
<line x1="137.9" y1="85.1" x2="137.9" y2="83.5" stroke="#203a78" stroke-width="0.9"/>
<line x1="147.3" y1="85.1" x2="147.3" y2="83.5" stroke="#203a78" stroke-width="0.9"/>
<line x1="86" y1="84.3" x2="86" y2="82.7" stroke="#203a78" stroke-width="0.9"/>
<line x1="90" y1="84.3" x2="90" y2="82.7" stroke="#203a78" stroke-width="0.9"/>
<line x1="93" y1="84.3" x2="93" y2="82.7" stroke="#203a78" stroke-width="0.9"/>
<line x1="362" y1="74.8" x2="362" y2="73.2" stroke="#203a78" stroke-width="0.9"/>
<line x1="365" y1="74.8" x2="365" y2="73.2" stroke="#203a78" stroke-width="0.9"/>
<line x1="368" y1="74.8" x2="368" y2="73.2" stroke="#203a78" stroke-width="0.9"/>
<line x1="371" y1="74.8" x2="371" y2="73.2" stroke="#203a78" stroke-width="0.9"/>
<line x1="374" y1="74.8" x2="374" y2="73.2" stroke="#203a78" stroke-width="0.9"/>
<line x1="378" y1="74.8" x2="378" y2="73.2" stroke="#203a78" stroke-width="0.9"/>
<line x1="382.8" y1="74.8" x2="382.8" y2="73.2" stroke="#203a78" stroke-width="0.9"/>
<line x1="386.2" y1="74.8" x2="386.2" y2="73.2" stroke="#203a78" stroke-width="0.9"/>
<line x1="397.5" y1="74.8" x2="397.5" y2="73.2" stroke="#203a78" stroke-width="0.9"/>
<line x1="407.6" y1="74.8" x2="407.6" y2="73.2" stroke="#203a78" stroke-width="0.9"/>
<line x1="347" y1="73.3" x2="347" y2="71.7" stroke="#203a78" stroke-width="0.9"/>
<line x1="350" y1="73.3" x2="350" y2="71.7" stroke="#203a78" stroke-width="0.9"/>
<line x1="352" y1="73.3" x2="352" y2="71.7" stroke="#203a78" stroke-width="0.9"/>
<line x1="356" y1="73.3" x2="356" y2="71.7" stroke="#203a78" stroke-width="0.9"/>
<line x1="119.4" y1="451.1" x2="119.4" y2="449.5" stroke="#203a78" stroke-width="0.9"/>
<line x1="123.4" y1="451.1" x2="123.4" y2="449.5" stroke="#203a78" stroke-width="0.9"/>
<line x1="145.3" y1="451.1" x2="145.3" y2="449.5" stroke="#203a78" stroke-width="0.9"/>
<line x1="109" y1="448.2" x2="109" y2="446.59999999999997" stroke="#203a78" stroke-width="0.9"/>
<line x1="360.4" y1="435.2" x2="360.4" y2="433.59999999999997" stroke="#203a78" stroke-width="0.9"/>
<line x1="370.4" y1="438.9" x2="370.4" y2="437.29999999999995" stroke="#203a78" stroke-width="0.9"/>
<line x1="374.4" y1="438.9" x2="374.4" y2="437.29999999999995" stroke="#203a78" stroke-width="0.9"/>
<line x1="384.7" y1="438.9" x2="384.7" y2="437.29999999999995" stroke="#203a78" stroke-width="0.9"/>
<line x1="391.5" y1="438.9" x2="391.5" y2="437.29999999999995" stroke="#203a78" stroke-width="0.9"/>
<line x1="396.4" y1="438.9" x2="396.4" y2="437.29999999999995" stroke="#203a78" stroke-width="0.9"/>
<line x1="146.9" y1="252.5" x2="146.9" y2="250.9" stroke="#203a78" stroke-width="0.9"/>
<line x1="148.9" y1="252.5" x2="148.9" y2="250.9" stroke="#203a78" stroke-width="0.9"/>
<line x1="151.7" y1="252.5" x2="151.7" y2="250.9" stroke="#203a78" stroke-width="0.9"/>
<line x1="153.8" y1="252.5" x2="153.8" y2="250.9" stroke="#203a78" stroke-width="0.9"/>
<line x1="155.9" y1="252.5" x2="155.9" y2="250.9" stroke="#203a78" stroke-width="0.9"/>
<line x1="377.5" y1="242.6" x2="377.5" y2="241.0" stroke="#203a78" stroke-width="0.9"/>
<line x1="381.4" y1="242.6" x2="381.4" y2="241.0" stroke="#203a78" stroke-width="0.9"/>
<line x1="386" y1="242.6" x2="386" y2="241.0" stroke="#203a78" stroke-width="0.9"/>
<line x1="402.2" y1="242.6" x2="402.2" y2="241.0" stroke="#203a78" stroke-width="0.9"/>
<line x1="101.2" y1="110.4" x2="101.2" y2="108.80000000000001" stroke="#c41a45" stroke-width="0.9"/>
<line x1="104" y1="110.4" x2="104" y2="108.80000000000001" stroke="#c41a45" stroke-width="0.9"/>
<line x1="108.6" y1="110.4" x2="108.6" y2="108.80000000000001" stroke="#c41a45" stroke-width="0.9"/>
<line x1="112.3" y1="110.4" x2="112.3" y2="108.80000000000001" stroke="#c41a45" stroke-width="0.9"/>
<line x1="119" y1="110.4" x2="119" y2="108.80000000000001" stroke="#c41a45" stroke-width="0.9"/>
<line x1="121.9" y1="110.4" x2="121.9" y2="108.80000000000001" stroke="#c41a45" stroke-width="0.9"/>
<line x1="352.5" y1="90.4" x2="352.5" y2="88.80000000000001" stroke="#c41a45" stroke-width="0.9"/>
<line x1="355.5" y1="90.4" x2="355.5" y2="88.80000000000001" stroke="#c41a45" stroke-width="0.9"/>
<line x1="359.8" y1="90.4" x2="359.8" y2="88.80000000000001" stroke="#c41a45" stroke-width="0.9"/>
<line x1="362.6" y1="90.4" x2="362.6" y2="88.80000000000001" stroke="#c41a45" stroke-width="0.9"/>
<line x1="367.2" y1="90.4" x2="367.2" y2="88.80000000000001" stroke="#c41a45" stroke-width="0.9"/>
<line x1="370.3" y1="90.4" x2="370.3" y2="88.80000000000001" stroke="#c41a45" stroke-width="0.9"/>
<line x1="372.8" y1="90.4" x2="372.8" y2="88.80000000000001" stroke="#c41a45" stroke-width="0.9"/>
<line x1="374.6" y1="90.4" x2="374.6" y2="88.80000000000001" stroke="#c41a45" stroke-width="0.9"/>
<line x1="376.5" y1="90.4" x2="376.5" y2="88.80000000000001" stroke="#c41a45" stroke-width="0.9"/>
<line x1="98" y1="248.8" x2="98" y2="247.20000000000002" stroke="#c41a45" stroke-width="0.9"/>
<line x1="103" y1="248.8" x2="103" y2="247.20000000000002" stroke="#c41a45" stroke-width="0.9"/>
<line x1="107" y1="248.8" x2="107" y2="247.20000000000002" stroke="#c41a45" stroke-width="0.9"/>
<line x1="112" y1="248.8" x2="112" y2="247.20000000000002" stroke="#c41a45" stroke-width="0.9"/>
<line x1="118" y1="248.8" x2="118" y2="247.20000000000002" stroke="#c41a45" stroke-width="0.9"/>
<line x1="121" y1="248.8" x2="121" y2="247.20000000000002" stroke="#c41a45" stroke-width="0.9"/>
<line x1="127" y1="248.8" x2="127" y2="247.20000000000002" stroke="#c41a45" stroke-width="0.9"/>
<line x1="133" y1="248.8" x2="133" y2="247.20000000000002" stroke="#c41a45" stroke-width="0.9"/>
<line x1="138" y1="248.8" x2="138" y2="247.20000000000002" stroke="#c41a45" stroke-width="0.9"/>
<line x1="142" y1="248.8" x2="142" y2="247.20000000000002" stroke="#c41a45" stroke-width="0.9"/>
<line x1="148.6" y1="248.8" x2="148.6" y2="247.20000000000002" stroke="#c41a45" stroke-width="0.9"/>
<line x1="350" y1="240.6" x2="350" y2="239.0" stroke="#c41a45" stroke-width="0.9"/>
<line x1="354" y1="240.6" x2="354" y2="239.0" stroke="#c41a45" stroke-width="0.9"/>
<line x1="358" y1="240.6" x2="358" y2="239.0" stroke="#c41a45" stroke-width="0.9"/>
<line x1="362" y1="240.6" x2="362" y2="239.0" stroke="#c41a45" stroke-width="0.9"/>
<line x1="366" y1="240.6" x2="366" y2="239.0" stroke="#c41a45" stroke-width="0.9"/>
<line x1="376" y1="240.2" x2="376" y2="238.6" stroke="#c41a45" stroke-width="0.9"/>
<line x1="378" y1="240.1" x2="378" y2="238.5" stroke="#c41a45" stroke-width="0.9"/>
<line x1="380.5" y1="240" x2="380.5" y2="238.4" stroke="#c41a45" stroke-width="0.9"/>
<line x1="180" y1="72.5" x2="188.7" y2="72.5" stroke="#203a78" stroke-width="1.1"/>
<line x1="184.35" y1="72.5" x2="184.35" y2="71.2" stroke="#203a78" stroke-width="0.8"/>
<line x1="180.2" y1="83.1" x2="189.6" y2="83.1" stroke="#d8432c" stroke-width="1.5" stroke-dasharray="1.9 1.8"/>
<text x="191.6" y="74.3" font-size="7.8" text-anchor="start" font-weight="normal" font-style="normal" fill="#231f20" >KRAS-WT (n<tspan font-weight="bold">=</tspan>118)</text>
<text x="191.9" y="84.7" font-size="7.8" text-anchor="start" font-weight="normal" font-style="normal" fill="#231f20" >KRAS-MT (n<tspan font-weight="bold">=</tspan>42)</text>
<line x1="431.2" y1="72.7" x2="439.7" y2="72.7" stroke="#203a78" stroke-width="1.1"/>
<line x1="435.45" y1="72.7" x2="435.45" y2="71.4" stroke="#203a78" stroke-width="0.8"/>
<line x1="431.4" y1="83.3" x2="440.59999999999997" y2="83.3" stroke="#d8432c" stroke-width="1.5" stroke-dasharray="1.9 1.8"/>
<text x="442.7" y="74.4" font-size="7.8" text-anchor="start" font-weight="normal" font-style="normal" fill="#231f20" >KRAS-WT (n<tspan font-weight="bold">=</tspan>118)</text>
<text x="443.0" y="84.8" font-size="7.8" text-anchor="start" font-weight="normal" font-style="normal" fill="#231f20" >KRAS-MT (n<tspan font-weight="bold">=</tspan>42)</text>
<line x1="186.9" y1="236.2" x2="195" y2="236.2" stroke="#203a78" stroke-width="1.1"/>
<line x1="190.95" y1="236.2" x2="190.95" y2="234.89999999999998" stroke="#203a78" stroke-width="0.8"/>
<line x1="187.1" y1="247.29999999999998" x2="195.9" y2="247.29999999999998" stroke="#d8432c" stroke-width="1.5" stroke-dasharray="1.9 1.8"/>
<text x="198.5" y="238.3" font-size="7.8" text-anchor="start" font-weight="normal" font-style="normal" fill="#231f20" >KRAS-WT (<tspan font-style="italic">n</tspan><tspan font-weight="bold">=</tspan>533)</text>
<text x="198.8" y="248.9" font-size="7.8" text-anchor="start" font-weight="normal" font-style="normal" fill="#231f20" >KRAS-MT (<tspan font-style="italic">n</tspan><tspan font-weight="bold">=</tspan>48)</text>
<line x1="437.7" y1="236.2" x2="446" y2="236.2" stroke="#203a78" stroke-width="1.1"/>
<line x1="441.85" y1="236.2" x2="441.85" y2="234.89999999999998" stroke="#203a78" stroke-width="0.8"/>
<line x1="437.9" y1="247.29999999999998" x2="446.9" y2="247.29999999999998" stroke="#d8432c" stroke-width="1.5" stroke-dasharray="1.9 1.8"/>
<text x="449.2" y="238.3" font-size="7.8" text-anchor="start" font-weight="normal" font-style="normal" fill="#231f20" >KRAS-WT (<tspan font-style="italic">n</tspan><tspan font-weight="bold">=</tspan>533)</text>
<text x="449.5" y="248.9" font-size="7.8" text-anchor="start" font-weight="normal" font-style="normal" fill="#231f20" >KRAS-MT (<tspan font-style="italic">n</tspan><tspan font-weight="bold">=</tspan>48)</text>
<line x1="188.3" y1="399.2" x2="197.5" y2="399.2" stroke="#203a78" stroke-width="1.1"/>
<line x1="192.9" y1="399.2" x2="192.9" y2="397.9" stroke="#203a78" stroke-width="0.8"/>
<line x1="188.5" y1="410.40000000000003" x2="198.4" y2="410.40000000000003" stroke="#d8432c" stroke-width="1.5" stroke-dasharray="1.9 1.8"/>
<text x="200.4" y="401.4" font-size="7.8" text-anchor="start" font-weight="normal" font-style="normal" fill="#231f20" >KRAS-WT (<tspan font-style="italic">n</tspan><tspan font-weight="bold">=</tspan>61)</text>
<text x="200.70000000000002" y="412.4" font-size="7.8" text-anchor="start" font-weight="normal" font-style="normal" fill="#231f20" >KRAS-MT (<tspan font-style="italic">n</tspan><tspan font-weight="bold">=</tspan>20)</text>
<line x1="439.6" y1="400.0" x2="448.5" y2="400.0" stroke="#203a78" stroke-width="1.1"/>
<line x1="444.05" y1="400.0" x2="444.05" y2="398.7" stroke="#203a78" stroke-width="0.8"/>
<line x1="439.8" y1="411.20000000000005" x2="449.4" y2="411.20000000000005" stroke="#d8432c" stroke-width="1.5" stroke-dasharray="1.9 1.8"/>
<text x="451.2" y="401.6" font-size="7.8" text-anchor="start" font-weight="normal" font-style="normal" fill="#231f20" >KRAS-WT (<tspan font-style="italic">n</tspan><tspan font-weight="bold">=</tspan>61)</text>
<text x="451.5" y="412.6" font-size="7.8" text-anchor="start" font-weight="normal" font-style="normal" fill="#231f20" >KRAS-MT (<tspan font-style="italic">n</tspan><tspan font-weight="bold">=</tspan>20)</text>
<text x="167.2" y="115.6" font-size="8.5" fill="#231f20"><tspan font-style="italic">P</tspan><tspan font-size="8.5">&lt;</tspan><tspan font-size="7.8" style="stroke-width:0.15px">0.0001</tspan></text>
<text x="418.0" y="115.4" font-size="8.5" fill="#231f20" font-style="italic">P</text>
<rect x="423.70" y="112.20" width="5.30" height="0.9" fill="#3a3a3a"/>
<rect x="423.70" y="113.50" width="5.30" height="0.9" fill="#3a3a3a"/>
<rect x="423.70" y="113.10" width="5.30" height="0.4" fill="#888"/>
<text x="429.40" y="115.4" font-size="7.8" fill="#231f20" style="stroke-width:0.15px">0.003</text>
<text x="173.5" y="283.7" font-size="8.5" fill="#231f20" font-style="italic">P</text>
<rect x="179.20" y="280.50" width="5.30" height="0.9" fill="#3a3a3a"/>
<rect x="179.20" y="281.80" width="5.30" height="0.9" fill="#3a3a3a"/>
<rect x="179.20" y="281.40" width="5.30" height="0.4" fill="#888"/>
<text x="184.90" y="283.7" font-size="7.8" fill="#231f20" style="stroke-width:0.15px">0.55</text>
<text x="424.2" y="283.7" font-size="8.5" fill="#231f20" font-style="italic">P</text>
<rect x="429.90" y="280.50" width="5.30" height="0.9" fill="#3a3a3a"/>
<rect x="429.90" y="281.80" width="5.30" height="0.9" fill="#3a3a3a"/>
<rect x="429.90" y="281.40" width="5.30" height="0.4" fill="#888"/>
<text x="435.60" y="283.7" font-size="7.8" fill="#231f20" style="stroke-width:0.15px">0.84</text>
<text x="175.4" y="453.1" font-size="8.5" fill="#231f20" font-style="italic">P</text>
<rect x="181.10" y="449.90" width="5.30" height="0.9" fill="#3a3a3a"/>
<rect x="181.10" y="451.20" width="5.30" height="0.9" fill="#3a3a3a"/>
<rect x="181.10" y="450.80" width="5.30" height="0.4" fill="#888"/>
<text x="186.80" y="453.1" font-size="7.8" fill="#231f20" style="stroke-width:0.15px">0.10</text>
<text x="426.7" y="453.5" font-size="8.5" fill="#231f20" font-style="italic">P</text>
<rect x="432.40" y="450.30" width="5.30" height="0.9" fill="#3a3a3a"/>
<rect x="432.40" y="451.60" width="5.30" height="0.9" fill="#3a3a3a"/>
<rect x="432.40" y="451.20" width="5.30" height="0.4" fill="#888"/>
<text x="438.10" y="453.5" font-size="7.8" fill="#231f20" style="stroke-width:0.15px">0.02</text>
</svg>
</body></html>
